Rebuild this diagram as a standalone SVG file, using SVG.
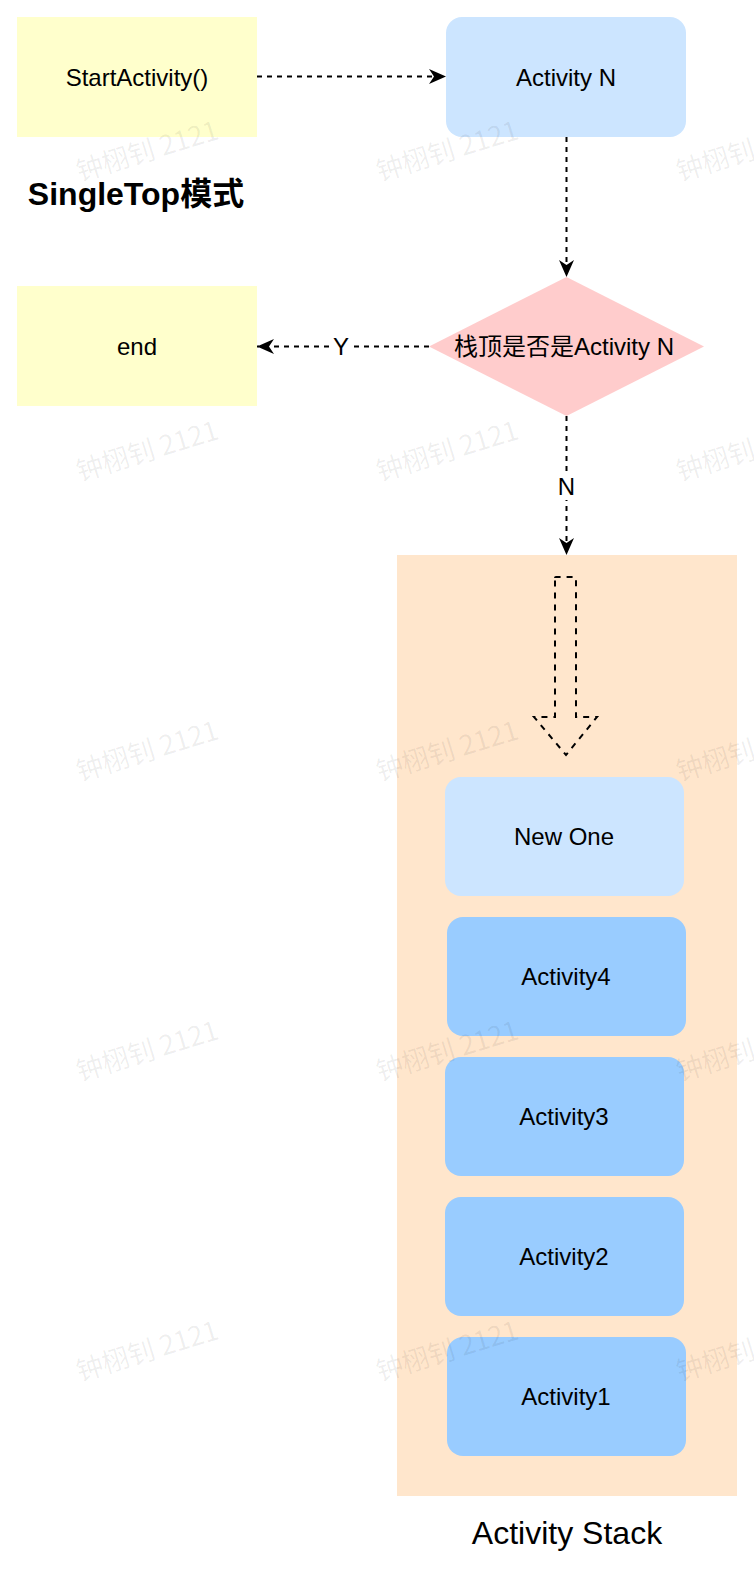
<svg xmlns="http://www.w3.org/2000/svg" width="754" height="1574" viewBox="0 0 754 1574">
<style>
.lbl{font-family:"Liberation Sans",Arial,sans-serif;font-size:24px;fill:#000;text-anchor:middle}
.edge{fill:none;stroke:#000;stroke-width:2;stroke-dasharray:5 5}
.wm{font-family:"Noto Sans CJK SC","Liberation Sans",sans-serif;font-size:27px;fill:#000;fill-opacity:0.07;text-anchor:middle}
.act{fill:#99ccff}
</style>
<defs>
<marker id="arr" markerUnits="userSpaceOnUse" markerWidth="18" markerHeight="16" refX="17" refY="7.5" orient="auto">
<path d="M0,0 L17,7.5 L0,15 L5,7.5 Z" fill="#000"/>
</marker>
</defs>
<rect width="754" height="1574" fill="#fff"/>

<g id="stack">
<rect x="397" y="555" width="340" height="941" fill="#ffe6cc"/>
<text class="lbl" x="567" y="1544" style="font-size:32px">Activity Stack</text>
</g>

<g id="start">
<rect x="17" y="17" width="240" height="120" fill="#ffffcc"/>
<text class="lbl" x="137" y="85.5">StartActivity()</text>
</g>
<g id="title">
<text x="136" y="205" style="font-family:'Liberation Sans','Noto Sans CJK SC',sans-serif;font-size:32px;font-weight:bold;text-anchor:middle">SingleTop模式</text>
</g>
<g id="activityN">
<rect x="446" y="17" width="240" height="120" rx="16" fill="#cce5ff"/>
<text class="lbl" x="566" y="85.5">Activity N</text>
</g>
<g id="end">
<rect x="17" y="286" width="240" height="120" fill="#ffffcc"/>
<text class="lbl" x="137" y="354.5">end</text>
</g>
<g id="decision">
<polygon points="566.5,277 704,346.5 566.5,416 429,346.5" fill="#ffcccc"/>
<text class="lbl" x="564" y="355" style="font-family:'Liberation Sans','Noto Sans CJK SC',sans-serif">栈顶是否是Activity N</text>
</g>
<g id="hollowArrow">
<path d="M555,578 Q555,577 556,577 L575,577 Q576,577 576,578 L576,717 L597,717 L566,755 L534,717 L555,717 Z" fill="none" stroke="#000" stroke-width="2" stroke-dasharray="6 6"/>
</g>
<g id="newOne">
<rect x="445" y="777" width="239" height="119" rx="16" fill="#cce5ff"/>
<text class="lbl" x="564" y="845">New One</text>
</g>
<g id="activity4">
<rect class="act" x="447" y="917" width="239" height="119" rx="16"/>
<text class="lbl" x="566" y="985">Activity4</text>
</g>
<g id="activity3">
<rect class="act" x="445" y="1057" width="239" height="119" rx="16"/>
<text class="lbl" x="564" y="1125">Activity3</text>
</g>
<g id="activity2">
<rect class="act" x="445" y="1197" width="239" height="119" rx="16"/>
<text class="lbl" x="564" y="1265">Activity2</text>
</g>
<g id="activity1">
<rect class="act" x="447" y="1337" width="239" height="119" rx="16"/>
<text class="lbl" x="566" y="1405">Activity1</text>
</g>

<g id="connectors">
<line class="edge" x1="257" y1="76.5" x2="446" y2="76.5" marker-end="url(#arr)"/>
<line class="edge" x1="566.5" y1="137" x2="566.5" y2="277" marker-end="url(#arr)"/>
<line class="edge" x1="429" y1="346.5" x2="257" y2="346.5" marker-end="url(#arr)"/>
<line class="edge" x1="566.5" y1="416" x2="566.5" y2="555" marker-end="url(#arr)"/>
<rect x="332" y="334" width="18" height="26" fill="#fff"/>
<text class="lbl" x="341" y="355">Y</text>
<rect x="555" y="472" width="23" height="28" fill="#fff"/>
<text class="lbl" x="566.5" y="495">N</text>
</g>

<g id="watermarks">
<text class="wm" transform="translate(150,160) rotate(-17)">钟栩钊 2121</text>
<text class="wm" transform="translate(450,160) rotate(-17)">钟栩钊 2121</text>
<text class="wm" transform="translate(750,160) rotate(-17)">钟栩钊 2121</text>
<text class="wm" transform="translate(150,460) rotate(-17)">钟栩钊 2121</text>
<text class="wm" transform="translate(450,460) rotate(-17)">钟栩钊 2121</text>
<text class="wm" transform="translate(750,460) rotate(-17)">钟栩钊 2121</text>
<text class="wm" transform="translate(150,760) rotate(-17)">钟栩钊 2121</text>
<text class="wm" transform="translate(450,760) rotate(-17)">钟栩钊 2121</text>
<text class="wm" transform="translate(750,760) rotate(-17)">钟栩钊 2121</text>
<text class="wm" transform="translate(150,1060) rotate(-17)">钟栩钊 2121</text>
<text class="wm" transform="translate(450,1060) rotate(-17)">钟栩钊 2121</text>
<text class="wm" transform="translate(750,1060) rotate(-17)">钟栩钊 2121</text>
<text class="wm" transform="translate(150,1360) rotate(-17)">钟栩钊 2121</text>
<text class="wm" transform="translate(450,1360) rotate(-17)">钟栩钊 2121</text>
<text class="wm" transform="translate(750,1360) rotate(-17)">钟栩钊 2121</text>
</g>
</svg>
